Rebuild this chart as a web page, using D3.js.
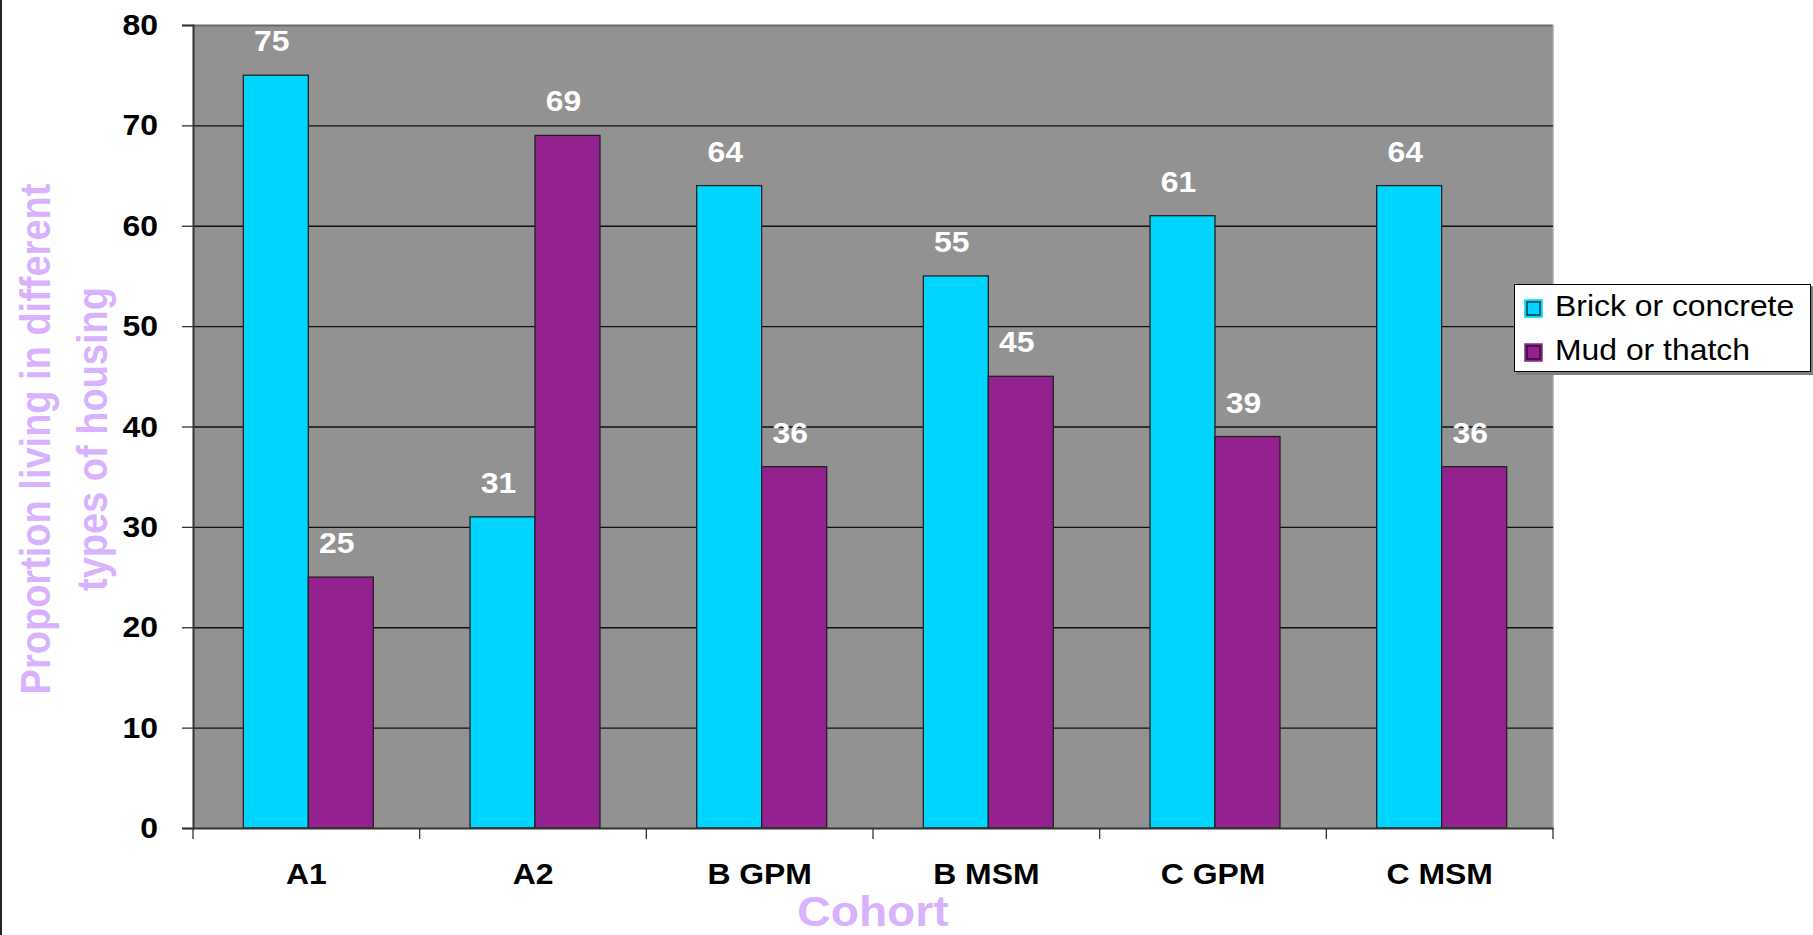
<!DOCTYPE html>
<html>
<head>
<meta charset="utf-8">
<script src="https://cdn.jsdelivr.net/npm/d3@7"></script>
<style>
  html, body { margin: 0; padding: 0; background: #fff; }
  svg { display: block; font-family: "Liberation Sans", Arial, sans-serif; }
</style>
</head>
<body>
<svg id="chart" width="1813" height="935"></svg>
<script>
// Housing type by cohort (percent)
const categories = ["A1", "A2", "B GPM", "B MSM", "C GPM", "C MSM"];
const seriesNames = ["Brick or concrete", "Mud or thatch"];
const brick = [75, 31, 64, 55, 61, 64];
const mud = [25, 69, 36, 45, 39, 36];
const yTicks = [0, 10, 20, 30, 40, 50, 60, 70, 80];

const colors = ["#00D5FF", "#932190"];
const titleColor = "#D8B2FF";
const sx = 1.1; // horizontal glyph stretch

const svg = d3.select("#chart");
const plot = { left: 193, right: 1553, top: 25, bottom: 828 };

const x = d3.scaleBand().domain(categories).range([plot.left, plot.right]).padding(0);
const barW = 65;
const xs = d3.scaleBand().domain(seriesNames).range([0, barW * 2]).padding(0);
const y = d3.scaleLinear().domain([0, 80]).range([plot.bottom, plot.top]);

// outer left rule
svg.append("line").attr("x1", 1).attr("x2", 1).attr("y1", 0).attr("y2", 935)
  .attr("stroke", "#222").attr("stroke-width", 2);

// plot background
svg.append("rect")
  .attr("x", plot.left).attr("y", plot.top)
  .attr("width", plot.right - plot.left).attr("height", plot.bottom - plot.top)
  .attr("fill", "#929292");
svg.append("line").attr("x1", plot.left).attr("x2", plot.right)
  .attr("y1", plot.top + 0.5).attr("y2", plot.top + 0.5)
  .attr("stroke", "#6a6a6a").attr("stroke-width", 2);
svg.append("line").attr("x1", plot.right).attr("x2", plot.right)
  .attr("y1", plot.top).attr("y2", plot.bottom)
  .attr("stroke", "#a8a8a8").attr("stroke-width", 1.5);

// gridlines
svg.append("g").selectAll("line")
  .data(yTicks.filter(d => d > 0 && d < 80))
  .join("line")
  .attr("x1", plot.left).attr("x2", plot.right)
  .attr("y1", d => y(d) + 0.5).attr("y2", d => y(d) + 0.5)
  .attr("stroke", "#111").attr("stroke-width", 1.3);

// y axis
const yAxis = svg.append("g").attr("transform", `translate(${plot.left},0)`)
  .call(d3.axisLeft(y).tickValues(yTicks).tickSize(11).tickFormat(""));
yAxis.select(".domain").attr("stroke", "#333").attr("stroke-width", 2);
yAxis.selectAll(".tick line").attr("stroke", "#333").attr("stroke-width", 1.3);

svg.append("g").selectAll("text")
  .data(yTicks)
  .join("text")
  .attr("transform", d => `translate(158,${y(d) + 10}) scale(${sx},1)`)
  .attr("text-anchor", "end")
  .attr("font-size", 29).attr("font-weight", "bold").attr("fill", "#000")
  .text(d => d);

// bars
const groups = svg.append("g").selectAll("g")
  .data(categories)
  .join("g")
  .attr("transform", d => `translate(${x(d) + (x.bandwidth() - barW * 2) / 2 + 2},0)`);

groups.selectAll("rect")
  .data((d, i) => [{ s: seriesNames[0], v: brick[i], c: colors[0] }, { s: seriesNames[1], v: mud[i], c: colors[1] }])
  .join("rect")
  .attr("x", d => xs(d.s))
  .attr("y", d => y(d.v))
  .attr("width", xs.bandwidth())
  .attr("height", d => y(0) - y(d.v))
  .attr("fill", d => d.c)
  .attr("stroke", "#222").attr("stroke-width", 1.3);

groups.selectAll("text")
  .data((d, i) => [{ s: seriesNames[0], v: brick[i] }, { s: seriesNames[1], v: mud[i] }])
  .join("text")
  .attr("transform", d => `translate(${xs(d.s) + xs.bandwidth() / 2 - 4},${y(d.v) - 24}) scale(${sx},1)`)
  .attr("text-anchor", "middle")
  .attr("font-size", 29).attr("font-weight", "bold").attr("fill", "#fff")
  .text(d => d.v);

// x axis
const xAxis = svg.append("g").attr("transform", `translate(0,${plot.bottom})`)
  .call(d3.axisBottom(x).tickSize(0).tickFormat(""));
xAxis.select(".domain").attr("stroke", "#333").attr("stroke-width", 2);
xAxis.selectAll(".tick").remove();

const bounds = categories.map(c => x(c)).concat([plot.right]);
svg.append("g").selectAll("line")
  .data(bounds)
  .join("line")
  .attr("x1", d => d).attr("x2", d => d)
  .attr("y1", plot.bottom).attr("y2", plot.bottom + 11)
  .attr("stroke", "#333").attr("stroke-width", 1.3);

svg.append("g").selectAll("text")
  .data(categories)
  .join("text")
  .attr("transform", d => `translate(${x(d) + x.bandwidth() / 2},884) scale(${sx},1)`)
  .attr("text-anchor", "middle")
  .attr("font-size", 29).attr("font-weight", "bold").attr("fill", "#000")
  .text(d => d);

// axis titles
svg.append("text")
  .attr("transform", `translate(${(plot.left + plot.right) / 2},926) scale(${sx},1)`)
  .attr("text-anchor", "middle")
  .attr("font-size", 42).attr("font-weight", "bold").attr("fill", titleColor)
  .text("Cohort");

const yTitle = svg.append("text")
  .attr("transform", `translate(0,439) scale(${sx},1) rotate(-90)`)
  .attr("text-anchor", "middle")
  .attr("font-size", 38).attr("font-weight", "bold").attr("fill", titleColor);
yTitle.append("tspan").attr("x", 0).attr("y", 45.5).text("Proportion living in different");
yTitle.append("tspan").attr("x", 0).attr("y", 97).text("types of housing");

// legend
const lg = svg.append("g");
lg.append("rect").attr("x", 1516).attr("y", 286).attr("width", 298).attr("height", 89).attr("fill", "#808080");
lg.append("rect").attr("x", 1514.5).attr("y", 284.5).attr("width", 296).attr("height", 87)
  .attr("fill", "#fff").attr("stroke", "#000").attr("stroke-width", 1);

const items = lg.selectAll("g.item")
  .data(seriesNames)
  .join("g").attr("class", "item")
  .attr("transform", (d, i) => `translate(0,${i * 44})`);
items.append("rect")
  .attr("x", 1525).attr("y", 300).attr("width", 17).attr("height", 17)
  .attr("fill", (d, i) => colors[i]).attr("stroke", (d, i) => colors[i]).attr("stroke-width", 1.5);
items.append("rect")
  .attr("x", 1527).attr("y", 302).attr("width", 13).attr("height", 13)
  .attr("fill", "none").attr("stroke", "#111").attr("stroke-width", 1.2);
items.append("text")
  .attr("transform", `translate(1555,316) scale(${sx},1)`)
  .attr("font-size", 29).attr("fill", "#000")
  .text(d => d);
</script>
</body>
</html>
